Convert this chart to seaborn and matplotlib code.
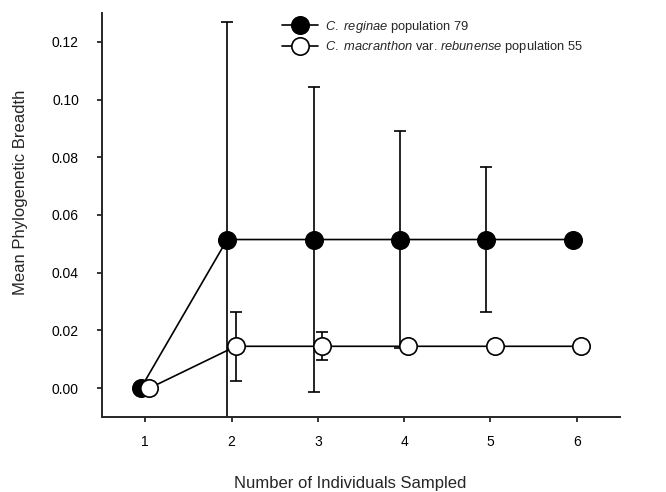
import numpy as np
import pandas as pd
import matplotlib
matplotlib.use("Agg")
import matplotlib.pyplot as plt
import seaborn as sns

# values
n_sampled = [1, 2, 3, 4, 5, 6]
reginae_mean = [0.0, 0.0515, 0.0515, 0.0515, 0.0515, 0.0515]
reginae_err = [0.0, 0.0755, 0.0527, 0.0375, 0.025, 0.0]
rebun_mean = [0.0, 0.0145, 0.0145, 0.0145, 0.0145, 0.0145]
rebun_err = [0.0, 0.012, 0.0048, 0.0, 0.0, 0.0]

reginae_label = r"$\mathit{C.\ reginae}$ population 79"
rebun_label = r"$\mathit{C.\ macranthon}$ var. $\mathit{rebunense}$ population 55"

sns.set_style("ticks")
plt.rcParams["font.family"] = ["Liberation Sans", "DejaVu Sans"]
plt.rcParams["mathtext.fontset"] = "custom"
plt.rcParams["mathtext.rm"] = "Liberation Sans"
plt.rcParams["mathtext.it"] = "Liberation Sans:italic"

dodge = 0.05
df = pd.DataFrame({
    "n": n_sampled,
    "reginae": reginae_mean,
    "reginae_err": reginae_err,
    "rebun": rebun_mean,
    "rebun_err": rebun_err,
})
df["x_reg"] = df["n"] - dodge
df["x_reb"] = df["n"] + dodge

fig = plt.figure(figsize=(6.66, 4.92), dpi=100)
ax = fig.add_axes([102 / 666, 75 / 492, 518 / 666, 404 / 492])

# error bars (drawn under the markers)
for xcol, ycol, ecol in [("x_reg", "reginae", "reginae_err"), ("x_reb", "rebun", "rebun_err")]:
    sub = df[df[ecol] > 0]
    ax.errorbar(sub[xcol], sub[ycol], yerr=sub[ecol], fmt="none", ecolor="black",
                elinewidth=1.2, capsize=4.6, capthick=1.2, zorder=1)

sns.lineplot(data=df, x="x_reg", y="reginae", ax=ax, color="black", lw=1.2,
             marker="o", markersize=12.5, markerfacecolor="black",
             markeredgecolor="black", markeredgewidth=1.2, label=reginae_label, zorder=3)
sns.lineplot(data=df, x="x_reb", y="rebun", ax=ax, color="black", lw=1.2,
             marker="o", markersize=12.5, markerfacecolor="white",
             markeredgecolor="black", markeredgewidth=1.2, label=rebun_label, zorder=4)

ax.set_xlim(0.5, 6.5)
ax.set_ylim(-0.01, 0.13)
ax.set_xticks(n_sampled)
ax.set_yticks([0.0, 0.02, 0.04, 0.06, 0.08, 0.10, 0.12])
ax.set_yticklabels(["0.00", "0.02", "0.04", "0.06", "0.08", "0.10", "0.12"])

for side in ["top", "right"]:
    ax.spines[side].set_visible(False)
for side in ["left", "bottom"]:
    ax.spines[side].set_linewidth(1.4)
ax.tick_params(axis="both", direction="out", length=3.6, width=1.1, labelsize=10,
               colors="black")
ax.tick_params(axis="x", pad=9)
ax.tick_params(axis="y", pad=13)

ax.set_xlabel("Number of Individuals Sampled", fontsize=12)
ax.set_ylabel("Mean Phylogenetic Breadth", fontsize=12)
ax.xaxis.set_label_coords((350 - 102) / 518, -0.145)
ax.yaxis.set_label_coords(-0.143, (417 - 192) / 404)

ax.legend(loc="upper left", bbox_to_anchor=((282 - 102) / 518, 0.986), frameon=False,
          fontsize=9.3, handlelength=2.8, handletextpad=0.5, labelspacing=0.35,
          borderpad=0, borderaxespad=0)

fig.savefig("out.png", dpi=100)
